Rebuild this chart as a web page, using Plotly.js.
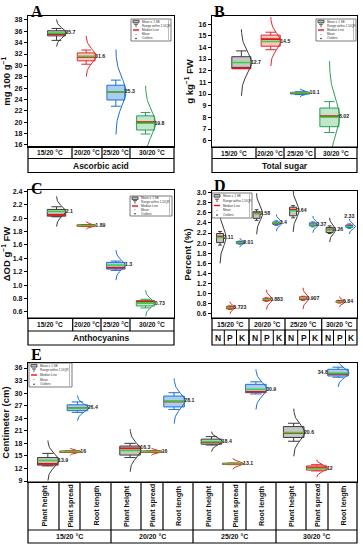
<!DOCTYPE html>
<html><head><meta charset="utf-8">
<script src="https://cdn.plot.ly/plotly-3.0.1.min.js"></script>
<style>html,body{margin:0;padding:0;background:#fff}#chart{width:363px;height:550px}</style>
</head><body><div id="chart"></div>
<script>
const W=363,H=550;
// ---------------- DATA ----------------
const temps=['15/20 °C','20/20 °C','25/20 °C','30/20 °C'];
// A: Ascorbic acid (mg 100 g-1)
const ascMean=[35.7,31.6,25.3,19.8];
const ascMedian=[35.5,31.5,25.3,20.0];
const ascQ1=[35.2,30.8,23.9,18.6];
const ascQ3=[36.1,32.2,26.5,21.1];
const ascLow=[34.4,30.2,22.8,17.9];
const ascHigh=[36.5,32.7,27.4,21.7];
const ascSd=[0.8,1.2,2.5,2.2];
// B: Total sugar (g kg-1 FW)
const sugMean=[12.7,14.5,10.1,8.02];
const sugMedian=[12.2,14.7,10.1,8.1];
const sugQ1=[12.2,14.1,10.0,7.2];
const sugQ3=[13.2,15.05,10.15,8.8];
const sugLow=[12.2,13.8,9.95,6.7];
const sugHigh=[13.7,15.3,10.2,9.35];
const sugSd=[0.95,0.7,0.12,1.6];
// C: Anthocyanins (dOD g-1 FW)
const antMean=[2.1,1.89,1.3,0.73];
const antMedian=[2.05,1.89,1.26,0.755];
const antQ1=[2.03,1.88,1.24,0.69];
const antQ3=[2.13,1.90,1.34,0.77];
const antLow=[2.02,1.875,1.22,0.66];
const antHigh=[2.17,1.905,1.36,0.79];
const antSd=[0.075,0.02,0.075,0.065];
// D: N, P, K (%), rows = nutrient, cols = temperature
const nutrients=['N','P','K'];
const npkMean=[[2.11,2.58,2.64,2.26],[0.723,0.883,0.907,0.84],[2.01,2.4,2.37,2.33]];
const npkMedian=[[2.13,2.59,2.66,2.27],[0.72,0.875,0.9,0.845],[2.01,2.39,2.37,2.34]];
const npkQ1=[[2.01,2.49,2.54,2.21],[0.70,0.86,0.88,0.825],[1.99,2.37,2.34,2.31]];
const npkQ3=[[2.19,2.62,2.71,2.31],[0.75,0.91,0.94,0.86],[2.03,2.42,2.40,2.36]];
const npkLow=[[1.96,2.45,2.50,2.19],[0.69,0.85,0.87,0.815],[1.98,2.35,2.32,2.29]];
const npkHigh=[[2.23,2.66,2.74,2.34],[0.76,0.92,0.95,0.87],[2.04,2.44,2.42,2.38]];
const npkSd=[[0.17,0.135,0.14,0.08],[0.04,0.065,0.07,0.035],[0.03,0.055,0.055,0.05]];
// E: growth traits (cm), rows = trait, cols = temperature
const traits=['Plant height','Plant spread','Root length'];
const grMean=[[13.9,16.3,18.4,20.6],[16,16,13.1,12],[26.4,28.1,30.9,34.8]];
const grMedian=[[13.1,16.8,18.3,20.5],[16,16,13.1,12.2],[26.4,28.0,30.3,34.6]];
const grQ1=[[12.8,15.2,17.8,19.4],[15.85,15.85,12.95,11.6],[25.8,26.7,30.1,34.1]];
const grQ3=[[14.6,17.35,19.0,22.0],[16.15,16.15,13.25,12.6],[27.2,29.3,32.1,35.7]];
const grLow=[[12.6,14.6,17.6,18.5],[15.8,15.8,12.9,11.4],[25.4,26.1,29.8,33.8]];
const grHigh=[[15.6,18.0,19.6,22.8],[16.2,16.2,13.3,12.9],[27.9,30.1,32.7,36.2]];
const grSd=[[1.6,1.7,0.8,1.9],[0.3,0.3,0.45,0.7],[1.0,1.8,1.6,1.1]];

// ---------------- LAYOUT HELPERS ----------------
const fx=p=>p/W, fy=p=>1-p/H;
const COL={
  gray:{fill:'#c6c6c6',line:'#3a3a3a'},
  red:{fill:'#f7c7c7',line:'#e3262b'},
  blue:{fill:'#a8cef4',line:'#1f6fd4'},
  green:{fill:'#bfe7cb',line:'#2f9d5a'}
};
const tempColors=['gray','red','blue','green'];
const nutColors=['gray','red','blue'];
const traitColors=['gray','red','blue'];
const npkOffsets=[-0.27,0,0.27];
const growPos=[[-0.27,0.73,1.72,2.72],[0,0.99,1.98,3.0],[0.09,1.265,2.26,3.26]];

function perTemp(mean,med,q1,q3,lo,hi,sd){
  return temps.map((t,i)=>({color:COL[tempColors[i]],pos:[i],mean:[mean[i]],med:[med[i]],q1:[q1[i]],q3:[q3[i]],lo:[lo[i]],hi:[hi[i]],sd:[sd[i]]}));
}
const panels=[
 {letter:'A',lx:29,ly:11.5,xpx:[28,174],ypx:[16,146.5],xr:[-0.96,3.96],yr:[15.7,38.7],tick0:16,dtick:2,fmt:'',
  title:'mg 100 g<sup>−1</sup>',boxW:0.6,ampPx:10,series:perTemp(ascMean,ascMedian,ascQ1,ascQ3,ascLow,ascHigh,ascSd)},
 {letter:'B',lx:212,ly:11.5,xpx:[212,357],ypx:[16,147],xr:[-1.0,3.94],yr:[5.46,16.69],tick0:6,dtick:1,fmt:'',
  title:'g kg<sup>−1</sup> FW',boxW:0.65,ampPx:10,series:perTemp(sugMean,sugMedian,sugQ1,sugQ3,sugLow,sugHigh,sugSd)},
 {letter:'C',lx:29,ly:188.5,xpx:[28,174],ypx:[190,318],xr:[-0.96,3.96],yr:[0.51,2.42],tick0:0.6,dtick:0.2,fmt:'.1f',
  title:'ΔOD g<sup>−1</sup> FW',boxW:0.62,ampPx:9,series:perTemp(antMean,antMedian,antQ1,antQ3,antLow,antHigh,antSd)},
 {letter:'D',lx:212,ly:185.5,xpx:[212,357],ypx:[191,318],xr:[-0.49,3.48],yr:[0.52,3.03],tick0:0.6,dtick:0.2,fmt:'.1f',
  title:'Percent (%)',boxW:0.19,ampPx:6,
  series:nutrients.map((n,j)=>({color:COL[nutColors[j]],pos:temps.map((t,g)=>g+npkOffsets[j]),mean:npkMean[j],med:npkMedian[j],q1:npkQ1[j],q3:npkQ3[j],lo:npkLow[j],hi:npkHigh[j],sd:npkSd[j],
    tpos:j===2?['middle right','middle right','middle right','top center']:null}))},
 {letter:'E',lx:29,ly:354.5,xpx:[28,357],ypx:[363,482],xr:[-0.511,3.49],yr:[8.76,37.2],tick0:9,dtick:3,fmt:'',
  title:'Centimeter (cm)',boxW:0.25,ampPx:11,
  series:traits.map((n,j)=>({color:COL[traitColors[j]],pos:growPos[j],mean:grMean[j],med:grMedian[j],q1:grQ1[j],q3:grQ3[j],lo:grLow[j],hi:grHigh[j],sd:grSd[j],
    tpos:j===0?['middle right','top right','middle right','middle right']:(j===2?['middle right','middle right','middle right','middle left']:null)}))}
];

const data=[],shapes=[],annotations=[];
const FONT='Liberation Sans, Arial, sans-serif';
const layout={width:W,height:H,margin:{l:0,r:0,t:0,b:0},paper_bgcolor:'#fff',plot_bgcolor:'#fff',
  showlegend:false,boxmode:'overlay',shapes,annotations,font:{family:FONT,color:'#111'}};

panels.forEach((p,k)=>{
  const n=k+1,sfx=n>1?String(n):'';
  const xa='x'+sfx,ya='y'+sfx;
  layout['xaxis'+sfx]={domain:[fx(p.xpx[0]),fx(p.xpx[1])],range:p.xr,anchor:ya,showticklabels:false,ticks:'',
    showgrid:false,zeroline:false,showline:true,mirror:true,linecolor:'#000',linewidth:1.2,fixedrange:true,automargin:false};
  layout['yaxis'+sfx]={domain:[fy(p.ypx[1]),fy(p.ypx[0])],range:p.yr,anchor:xa,tick0:p.tick0,dtick:p.dtick,tickformat:p.fmt,
    ticks:'outside',ticklen:3,tickwidth:1,tickcolor:'#000',showgrid:false,zeroline:false,showline:true,mirror:true,
    linecolor:'#000',linewidth:1.2,tickfont:{family:FONT,size:7,weight:700,color:'#111'},
    title:{text:p.title,font:{family:FONT,size:9.5,weight:700,color:'#111'},standoff:3},automargin:false,fixedrange:true};
  const ppu=(p.xpx[1]-p.xpx[0])/(p.xr[1]-p.xr[0]);
  const amp=p.ampPx/ppu;
  // distribution curves
  p.series.forEach(s=>{
    const xs=[],ys=[];
    s.pos.forEach((x,i)=>{
      for(let j=0;j<=60;j++){const z=-3+j/10;xs.push(x+amp*Math.exp(-z*z/2));ys.push(s.mean[i]+z*s.sd[i]);}
      xs.push(null);ys.push(null);
    });
    data.push({type:'scatter',mode:'lines',x:xs,y:ys,xaxis:xa,yaxis:ya,line:{color:s.color.line,width:1},hoverinfo:'skip'});
  });
  // value labels
  p.series.forEach(s=>{
    const lx=[],ly=[],tp=[];
    s.pos.forEach((x,i)=>{
      const t=(s.tpos&&s.tpos[i])||'middle right';tp.push(t);
      lx.push(t.includes('right')?x+p.boxW/2:(t.includes('left')?x-p.boxW/2:x));
      ly.push(t==='top center'?s.mean[i]+3*s.sd[i]:s.mean[i]);
    });
    data.push({type:'scatter',mode:'text',x:lx,y:ly,text:s.mean.map(String),textposition:tp,
      textfont:{family:FONT,size:5.2,weight:700,color:'#222'},xaxis:xa,yaxis:ya,hoverinfo:'skip',cliponaxis:false});
  });
  // boxes
  p.series.forEach(s=>{
    data.push({type:'box',x:s.pos,q1:s.q1,median:s.med,q3:s.q3,lowerfence:s.lo,upperfence:s.hi,width:p.boxW,
      fillcolor:s.color.fill,line:{color:s.color.line,width:1},whiskerwidth:0.55,xaxis:xa,yaxis:ya,hoverinfo:'skip',boxpoints:false});
  });
  // median and mean lines
  p.series.forEach(s=>s.pos.forEach((x,i)=>{
    shapes.push({type:'line',xref:xa,yref:ya,x0:x-p.boxW/2,x1:x+p.boxW/2,y0:s.med[i],y1:s.med[i],line:{color:'#e4141b',width:1.8},layer:'above'});
    shapes.push({type:'line',xref:xa,yref:ya,x0:x-p.boxW/2,x1:x+p.boxW/2,y0:s.mean[i],y1:s.mean[i],line:{color:'#35d43a',width:1.5},layer:'above'});
  }));
  annotations.push({xref:'paper',yref:'paper',x:fx(p.lx),y:fy(p.ly),text:'<b>'+p.letter+'</b>',showarrow:false,
    xanchor:'left',yanchor:'middle',font:{family:'Liberation Serif, Times New Roman, serif',size:16,color:'#000'}});
});

// ---- tables ----
function ln(x0,y0,x1,y1,w){shapes.push({type:'line',xref:'paper',yref:'paper',x0:fx(x0),x1:fx(x1),y0:fy(y0),y1:fy(y1),line:{color:'#000',width:w||1.2},layer:'above'});}
function rc(x0,y0,x1,y1){shapes.push({type:'rect',xref:'paper',yref:'paper',x0:fx(x0),x1:fx(x1),y0:fy(y1),y1:fy(y0),line:{color:'#000',width:1.2},layer:'above'});}
function tx(x,y,t,size,angle){annotations.push({xref:'paper',yref:'paper',x:fx(x),y:fy(y),text:t,showarrow:false,xanchor:'center',yanchor:'middle',textangle:angle||0,font:{family:FONT,size:size,weight:700,color:'#111'}});}
function tempTable(x0,x1,divs,top,mid,bot,name){
  rc(x0,top,x1,bot);ln(x0,mid,x1,mid);
  const b=[x0].concat(divs,[x1]);
  divs.forEach(d=>ln(d,top,d,mid));
  temps.forEach((t,i)=>tx((b[i]+b[i+1])/2,(top+mid)/2+0.3,t,6.6));
  tx((x0+x1)/2,(mid+bot)/2+0.3,name,8.5);
}
tempTable(28,174,[72,102,130],146.5,158.5,172.5,'Ascorbic acid');
tempTable(212,357,[256,284,315],147,158.5,172.5,'Total sugar');
tempTable(28,174,[72.7,101,130],318,331,345,'Anthocyanins');
// D table
(function(){
  const top=318,mid=330,bot=345;
  rc(212,top,357,bot);ln(212,mid,357,mid);
  const tb=[212,249,285,321.7,357];
  [249,285,321.7].forEach(d=>ln(d,top,d,bot));
  temps.forEach((t,i)=>tx((tb[i]+tb[i+1])/2,(top+mid)/2+0.3,t,6.8));
  const nb=[212,224.3,236.5,249,261,273.3,285,297.7,309.5,321.7,333.5,345.5,357];
  nb.slice(1,-1).forEach(d=>ln(d,mid,d,bot,1));
  for(let i=0;i<12;i++) tx((nb[i]+nb[i+1])/2,(mid+bot)/2+0.3,nutrients[i%3],8.5);
})();
// E table
(function(){
  const top=482,mid=530,bot=543;
  rc(28,top,357,bot);ln(28,mid,357,mid);
  const cb=[28,59,80,111,141,163,193,223,246,276,306,328,357];
  cb.slice(1,-1).forEach(d=>ln(d,top,d,mid,1.2));
  [111,193,276].forEach(d=>ln(d,mid,d,bot));
  for(let i=0;i<12;i++) tx((cb[i]+cb[i+1])/2,(top+mid)/2,traits[i%3],7.2,-90);
  const tb=[28,111,193,276,357];
  temps.forEach((t,i)=>tx((tb[i]+tb[i+1])/2,(mid+bot)/2+0.3,t,7));
})();

// ---- legends ----
const legendRows=['Mean ± 1 SE','Range within 1.5IQR','Median Line','Mean','Outliers'];
function legendBox(x0,y0,x1,y1){
  shapes.push({type:'rect',xref:'paper',yref:'paper',x0:fx(x0),x1:fx(x1),y0:fy(y1),y1:fy(y0),line:{color:'#444',width:0.7},fillcolor:'#fff',layer:'above'});
  shapes.push({type:'line',xref:'paper',yref:'paper',x0:fx(x1-2.5),x1:fx(x1-2.5),y0:fy(y1-1),y1:fy(y0+1),line:{color:'#bbb',width:1},layer:'above'});
  const rh=(y1-y0)/5.2;
  legendRows.forEach((t,i)=>{
    const cy=y0+rh*(i+0.6);
    annotations.push({xref:'paper',yref:'paper',x:fx(x0+9),y:fy(cy),text:t,showarrow:false,xanchor:'left',yanchor:'middle',font:{family:FONT,size:3.1,color:'#333'}});
    const ix=x0+5;
    if(i===0) shapes.push({type:'rect',xref:'paper',yref:'paper',x0:fx(ix-3),x1:fx(ix+3),y0:fy(cy+1.3),y1:fy(cy-1.3),fillcolor:'#bbb',line:{color:'#333',width:0.8},layer:'above'});
    if(i===1){
      shapes.push({type:'line',xref:'paper',yref:'paper',x0:fx(ix),x1:fx(ix),y0:fy(cy+1.5),y1:fy(cy-1.5),line:{color:'#333',width:0.8},layer:'above'});
      shapes.push({type:'line',xref:'paper',yref:'paper',x0:fx(ix-2),x1:fx(ix+2),y0:fy(cy-1.5),y1:fy(cy-1.5),line:{color:'#333',width:0.8},layer:'above'});
    }
    if(i===2) shapes.push({type:'line',xref:'paper',yref:'paper',x0:fx(ix-3),x1:fx(ix+3),y0:fy(cy),y1:fy(cy),line:{color:'#e4141b',width:1.4},layer:'above'});
    if(i===3) shapes.push({type:'circle',xref:'paper',yref:'paper',x0:fx(ix-0.5),x1:fx(ix+0.5),y0:fy(cy+0.5),y1:fy(cy-0.5),fillcolor:'#555',line:{width:0},layer:'above'});
    if(i===4) shapes.push({type:'circle',xref:'paper',yref:'paper',x0:fx(ix-0.8),x1:fx(ix+0.8),y0:fy(cy+0.8),y1:fy(cy-0.8),fillcolor:'#222',line:{width:0},layer:'above'});
  });
}
legendBox(131,19,171,41);
legendBox(316,19,356,41);
legendBox(130,196,172,216);
legendBox(212,193,252,218);
legendBox(29,363,72,387);

Plotly.newPlot('chart',data,layout,{staticPlot:true,displayModeBar:false}).then(gd=>{
  gd.querySelectorAll('text').forEach(t=>{if(!t.textContent.trim()) t.remove();});
});
</script></body></html>
